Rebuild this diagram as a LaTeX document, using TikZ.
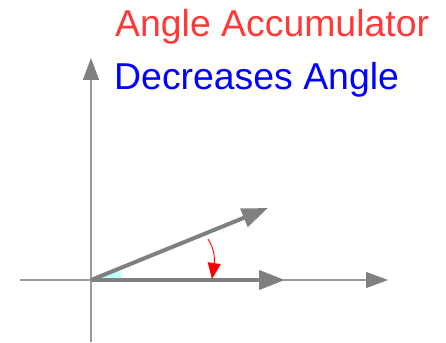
\documentclass[tikz,border=0pt]{standalone}
\usepackage{fontspec}
\setmainfont{Liberation Sans}
\usetikzlibrary{arrows.meta, positioning}
\definecolor{vecgray}{HTML}{808080}
\definecolor{axisgray}{HTML}{9A9A9A}
\definecolor{accred}{HTML}{FF3838}
\definecolor{decblue}{HTML}{0000FF}
\definecolor{anglecyan}{HTML}{BFFFFF}

\begin{document}
\begin{tikzpicture}[
    x=1pt, y=-1pt,
    axis/.style={draw=axisgray, line width=1.3pt,
                 -{Triangle[length=22pt, width=16pt, color=vecgray, fill=vecgray]}},
    vec/.style={draw=vecgray, line width=4pt,
                -{Triangle[length=26pt, width=19pt, color=vecgray, fill=vecgray]}},
    turn/.style={draw=red, line width=0.9pt,
                 -{Triangle[length=16pt, width=13pt, color=red, fill=red]}},
    titletext/.style={anchor=base west, inner sep=0pt,
                      font=\fontsize{37.4}{44}\selectfont}
]
\useasboundingbox (0,0) rectangle (446,342);

\coordinate (O) at (91,280);
\coordinate (xl) at (20,280);
\coordinate (xr) at (388,280);
\coordinate (yb) at (91,342);
\coordinate (yt) at (91,58);
\coordinate (start) at (268,208);
\coordinate (acc) at (285,280);
\coordinate (rs) at (208,239);
\coordinate (re) at (212,279);

% angle wedge
\fill[anglecyan] (O) -- ++(31,0) arc[start angle=0, end angle=-21.9, radius=31] -- cycle;

% axes
\draw[axis] (xl) -- (xr);
\draw[axis] (yb) -- (yt);

% vectors
\draw[vec] (O) -- (start);
\draw[vec] (O) -- (acc);

% turning arrow
\draw[turn] (rs) .. controls (214,248) and (215,258) .. (re);

\node[titletext, text=accred]  (title) at (115,37) {Angle Accumulator};
\node[titletext, text=decblue] (sub)   at (114,90) {Decreases Angle};
\end{tikzpicture}
\end{document}
